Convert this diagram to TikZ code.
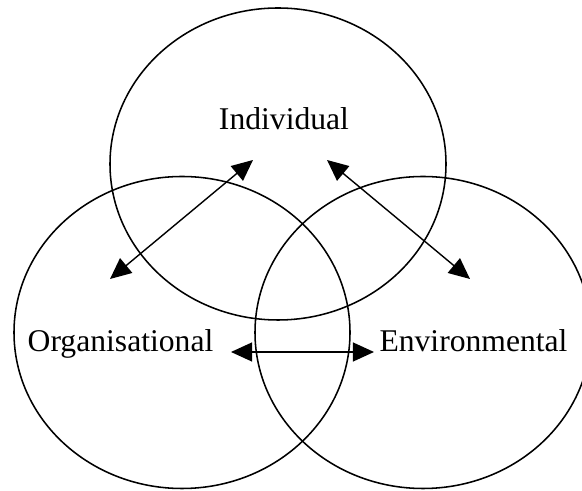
\documentclass[tikz,border=0pt]{standalone}
\usepackage{fontspec}
\setmainfont{Liberation Serif}
\usepackage{tikz}
\usetikzlibrary{calc}
\usetikzlibrary{arrows.meta}
\tikzstyle{every node}=[font=\fontsize{22.5}{27}\selectfont]

\begin{document}
\begin{tikzpicture}[line cap=round,line join=round,>={Triangle[length=15pt,width=13.5pt]},x=1.0cm,y=1.0cm]
            \clip(0.,0.) rectangle (14.55,12.275);
            \draw [line width=1.1pt] (6.95,8.175) ellipse (4.2 and 3.9);
            \draw [line width=1.1pt] (4.55,3.9625) ellipse (4.2 and 3.9);
            \draw [line width=1.1pt] (10.575,3.9625) ellipse (4.2 and 3.9);
            \coordinate (indL) at (6.325,8.275);
            \coordinate (indR) at (8.175,8.275);
            \coordinate (orgA) at (2.75,5.3);
            \coordinate (envA) at (11.75,5.3);
            \coordinate (orgB) at (5.775,3.475);
            \coordinate (envB) at (9.35,3.475);
            \draw [<->,line width=1.pt] (indL) -- (orgA);
            \draw [<->,line width=1.pt] (indR) -- (envA);
            \draw [<->,line width=1.pt] (orgB) -- (envB);
            \node[anchor=base] (ind) at (7.1,9.025) {Individual};
            \node[anchor=base] (org) at (3.0125,3.475) {Organisational};
            \node[anchor=base] (env) at (11.8375,3.475) {Environmental};
            \end{tikzpicture}
\end{document}
